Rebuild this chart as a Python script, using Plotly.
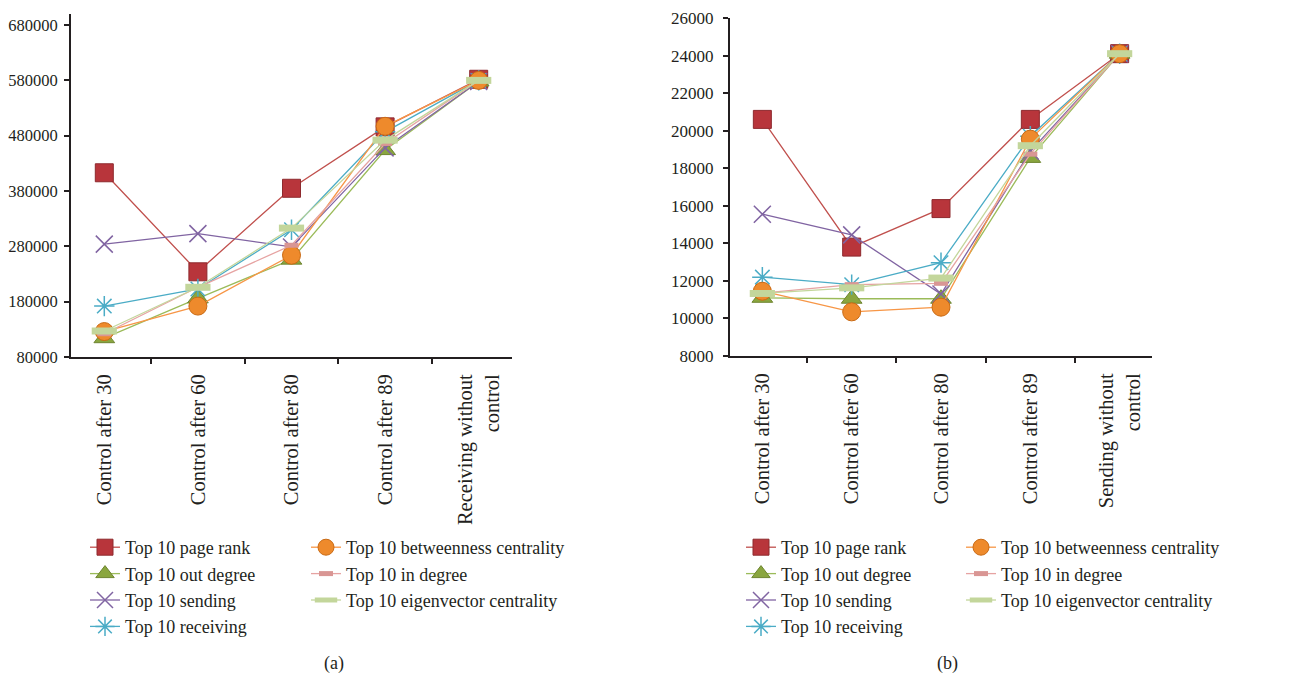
import plotly.graph_objects as go

# ---------------- data ----------------
categories_a = ["Control after 30", "Control after 60", "Control after 80",
                "Control after 89", "Receiving without<br>control"]
categories_b = ["Control after 30", "Control after 60", "Control after 80",
                "Control after 89", "Sending without<br>control"]

series_names = ["Top 10 page rank", "Top 10 out degree", "Top 10 sending",
                "Top 10 receiving", "Top 10 betweenness centrality",
                "Top 10 in degree", "Top 10 eigenvector centrality"]

page_rank_a = [413000, 234000, 385000, 496000, 582000]
out_degree_a = [114000, 186000, 256000, 454000, 578000]
sending_a = [284000, 303000, 279000, 458000, 578000]
receiving_a = [172000, 203000, 310000, 487000, 580000]
betweenness_a = [126000, 172000, 264000, 497000, 580000]
in_degree_a = [122000, 206000, 282000, 466000, 580000]
eigenvector_a = [127000, 206000, 313000, 472000, 580000]

page_rank_b = [20600, 13800, 15850, 20600, 24100]
out_degree_b = [11100, 11050, 11050, 18550, 24100]
sending_b = [15550, 14450, 11300, 18900, 24100]
receiving_b = [12200, 11800, 12970, 19700, 24100]
betweenness_b = [11450, 10350, 10600, 19550, 24100]
in_degree_b = [11350, 11800, 11870, 18750, 24100]
eigenvector_b = [11330, 11630, 12150, 19200, 24100]

yticks_a = [80000, 180000, 280000, 380000, 480000, 580000, 680000]
yticks_b = [8000, 10000, 12000, 14000, 16000, 18000, 20000, 22000, 24000, 26000]

# ---------------- styles ----------------
FONT = "Liberation Serif"
TXT = "#231F20"
styles = [
    dict(line=dict(color="#C0504D", width=1.3),
         marker=dict(symbol="square", size=18, color="#B8353B",
                     line=dict(color="#8E2A2E", width=1))),
    dict(line=dict(color="#9BBB59", width=1.3),
         marker=dict(symbol="triangle-up", size=18, color="#8AA63F",
                     line=dict(color="#6E8530", width=1))),
    dict(line=dict(color="#8064A2", width=1.3),
         marker=dict(symbol="x-thin-open", size=17, color="#8064A2",
                     line=dict(color="#8064A2", width=1.5))),
    dict(line=dict(color="#4BACC6", width=1.3),
         marker=dict(symbol="asterisk-open", size=17, color="#4BACC6",
                     line=dict(color="#4BACC6", width=1.5))),
    dict(line=dict(color="#F79646", width=1.3),
         marker=dict(symbol="circle", size=18, color="#EE8A2C",
                     line=dict(color="#C96A14", width=1))),
    dict(line=dict(color="#E6A3A2", width=1.3),
         marker=dict(symbol="line-ew", size=10, color="#D99694",
                     line=dict(color="#D99694", width=5))),
    dict(line=dict(color="#C3D69B", width=1.3),
         marker=dict(symbol="line-ew", size=18, color="#D7E4BD",
                     line=dict(color="#C3D69B", width=7))),
]

data_a = [page_rank_a, out_degree_a, sending_a, receiving_a,
          betweenness_a, in_degree_a, eigenvector_a]
data_b = [page_rank_b, out_degree_b, sending_b, receiving_b,
          betweenness_b, in_degree_b, eigenvector_b]

fig = go.Figure()

for i, (name, ys) in enumerate(zip(series_names, data_a)):
    fig.add_trace(go.Scatter(
        x=categories_a, y=ys, name=name, mode="lines+markers",
        xaxis="x", yaxis="y",
        legend="legend" if i < 4 else "legend2",
        **styles[i]))

for i, (name, ys) in enumerate(zip(series_names, data_b)):
    fig.add_trace(go.Scatter(
        x=categories_b, y=ys, name=name, mode="lines+markers",
        xaxis="x2", yaxis="y2",
        legend="legend3" if i < 4 else "legend4",
        **styles[i]))

# page has an 8px body margin: work in screen pixels, convert to figure
OFF = 8
W, H = 1301 - 2 * OFF, 682 - 2 * OFF


def px(v):
    return (v - OFF) / W


def py(v):
    return 1 - (v - OFF) / H


axis_common = dict(showline=True, linecolor=TXT, linewidth=2,
                   ticks="outside", ticklen=5, tickwidth=2, tickcolor=TXT,
                   showgrid=False, zeroline=False, automargin=False)
xfont = dict(family=FONT, size=20.5, color=TXT)
yfont = dict(family=FONT, size=16.5, color=TXT)

fig.update_layout(
    template="none",
    width=W, height=H,
    margin=dict(l=0, r=0, t=0, b=0),
    paper_bgcolor="white", plot_bgcolor="white",
    font=dict(family=FONT, size=17, color=TXT),
    xaxis=dict(domain=[px(71), px(512)], anchor="y", type="category",
               tickson="boundaries", tickangle=-90, ticklabelstandoff=7,
               tickfont=xfont, **axis_common),
    yaxis=dict(domain=[py(357), py(14)], anchor="x",
               range=[80000, 700000], tickmode="array", tickvals=yticks_a,
               ticktext=[str(v) for v in yticks_a], ticklabelstandoff=3,
               ticklabeloverflow="allow",
               tickfont=yfont, **axis_common),
    xaxis2=dict(domain=[px(730), px(1152)], anchor="y2", type="category",
                tickson="boundaries", tickangle=-90, ticklabelstandoff=7,
                tickfont=xfont, **axis_common),
    yaxis2=dict(domain=[py(356), py(18)], anchor="x2",
                range=[8000, 26000], tickmode="array", tickvals=yticks_b,
                ticktext=[str(v) for v in yticks_b], ticklabelstandoff=6,
                ticklabeloverflow="allow",
                tickfont=dict(family=FONT, size=17, color=TXT),
                **axis_common),
)

leg_common = dict(yanchor="top", xanchor="left", bgcolor="rgba(0,0,0,0)",
                  borderwidth=0,
                  font=dict(family=FONT, size=18, color=TXT),
                  traceorder="normal", itemwidth=30, tracegroupgap=0)
ly = py(529)
fig.update_layout(
    legend=dict(x=px(85), y=ly, **leg_common),
    legend2=dict(x=px(306), y=ly, **leg_common),
    legend3=dict(x=px(741), y=ly, **leg_common),
    legend4=dict(x=px(961), y=ly, **leg_common),
    showlegend=True,
)

fig.add_annotation(text="(a)", x=px(322), y=py(663), xref="paper",
                   yref="paper", showarrow=False, yanchor="middle",
                   font=dict(family=FONT, size=18, color=TXT))
fig.add_annotation(text="(b)", x=px(960), y=py(663), xref="paper",
                   yref="paper", showarrow=False, yanchor="middle",
                   font=dict(family=FONT, size=18, color=TXT))

fig.write_html("out.html")
